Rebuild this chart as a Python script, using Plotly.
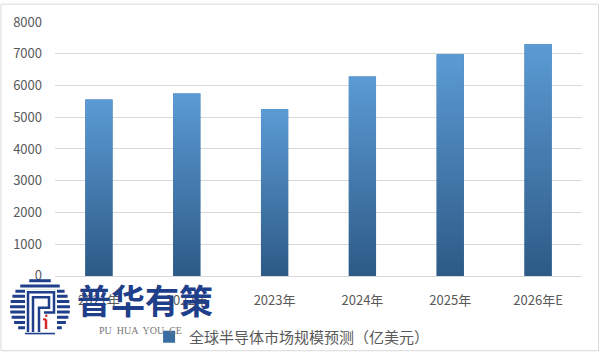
import plotly.graph_objects as go

categories = ["2021年", "2022年", "2023年", "2024年", "2025年", "2026年E"]
values = [5560, 5750, 5260, 6280, 6980, 7300]
y_ticks = [0, 1000, 2000, 3000, 4000, 5000, 6000, 7000, 8000]
series_name = "全球半导体市场规模预测（亿美元）"

W, H = 601, 361
ML, MR, MT, MB = 55, 19, 19, 79
PW, PH = W - ML - MR, H - MT - MB

def px(x):
    return (x - ML) / PW

def py(y):
    return (H - MB - y) / PH

FONT = "Noto Sans CJK SC, Open Sans, sans-serif"
BAR_W = 0.31
half = BAR_W / 2

fig = go.Figure()
# real bar trace (carries the data and legend entry)
fig.add_trace(go.Bar(
    x=list(range(len(categories))), y=values, width=BAR_W,
    marker=dict(color="#3A6EA3", line=dict(width=0)),
    name=series_name, hovertext=categories,
))
# vertical gradient overlay on each bar
for i, (c, v) in enumerate(zip(categories, values)):
    fig.add_trace(go.Scatter(
        x=[i - half, i - half, i + half, i + half, i - half],
        y=[0, v, v, 0, 0],
        fill="toself",
        mode="none",
        fillgradient=dict(type="vertical",
                          colorscale=[[0, "#2D5A86"], [1, "#5B9BD5"]]),
        showlegend=False,
        hoverinfo="skip",
    ))

shapes = []
# outer border
shapes.append(dict(type="rect", xref="paper", yref="paper",
                   x0=px(1), x1=px(598.5), y0=py(359.5), y1=py(0.5),
                   line=dict(color="#D9D9D9", width=1), layer="below"))

# watermark logo (decorative)
cx, cy, r = 40, 315, 30
navy = "#1F3F8A"
yy = cy - r + 2
while yy < cy + r - 1:
    dy = yy - cy
    hw = (r * r - dy * dy) ** 0.5
    shapes.append(dict(type="line", xref="paper", yref="paper",
                       x0=px(cx - hw), x1=px(cx + hw), y0=py(yy), y1=py(yy),
                       line=dict(color=navy, width=3)))
    yy += 5.4
shapes.append(dict(type="rect", xref="paper", yref="paper",
                   x0=px(25), x1=px(57), y0=py(341), y1=py(296),
                   fillcolor="white", line=dict(width=0)))

def path(pts):
    return "M " + " L ".join(f"{px(x)},{py(y)}" for x, y in pts)

for pts in [
    [(28, 340), (28, 299), (54, 299), (54, 320), (44, 320)],
    [(33, 340), (33, 304), (49, 304), (49, 315), (39, 315), (39, 340)],
]:
    shapes.append(dict(type="path", xref="paper", yref="paper", path=path(pts),
                       line=dict(color=navy, width=2.5)))
shapes.append(dict(type="line", xref="paper", yref="paper",
                   x0=px(46), x1=px(46), y0=py(327), y1=py(337),
                   line=dict(color="#D62828", width=2.5)))
shapes.append(dict(type="line", xref="paper", yref="paper",
                   x0=px(43), x1=px(46), y0=py(327), y1=py(327),
                   line=dict(color="#D62828", width=2)))
shapes.append(dict(type="circle", xref="paper", yref="paper",
                   x0=px(45), x1=px(47.5), y0=py(324.5), y1=py(322),
                   fillcolor="#D62828", line=dict(width=0)))

annotations = [
    dict(text="<b>普华有策</b>", x=px(145), y=py(306), xref="paper", yref="paper",
         showarrow=False, font=dict(family=FONT, size=34, color=navy),
         xanchor="center", yanchor="middle"),
    dict(text="PU  HUA  YOU  CE", x=px(97), y=py(339), xref="paper", yref="paper",
         showarrow=False, font=dict(family="Liberation Serif, serif", size=10, color="#777777"),
         xanchor="left", yanchor="middle"),
]

fig.update_layout(
    width=W, height=H,
    margin=dict(l=ML, r=MR, t=MT, b=MB),
    paper_bgcolor="white", plot_bgcolor="white",
    font=dict(family=FONT, size=13, color="#595959"),
    showlegend=True,
    legend=dict(orientation="h", xref="container", yref="container",
                x=0.486, xanchor="center", y=1 - 337 / H, yanchor="middle",
                font=dict(family=FONT, size=15, color="#595959"),
                bgcolor="rgba(0,0,0,0)", itemwidth=30),
    xaxis=dict(range=[-0.5, len(categories) - 0.5], tickvals=list(range(len(categories))),
               ticktext=categories, showgrid=False, zeroline=False,
               showline=True, linecolor="#D9D9D9", linewidth=1,
               ticks="", ticklabelstandoff=12, fixedrange=True,
               tickfont=dict(family=FONT, size=13, color="#595959")),
    yaxis=dict(range=[0, 8000], tickvals=y_ticks, showgrid=True, gridcolor="#D9D9D9",
               gridwidth=1, zeroline=False, showline=False, ticks="",
               ticklabelstandoff=12, fixedrange=True,
               tickfont=dict(family=FONT, size=13, color="#595959")),
    shapes=shapes,
    annotations=annotations,
)

fig.write_html("out.html")
